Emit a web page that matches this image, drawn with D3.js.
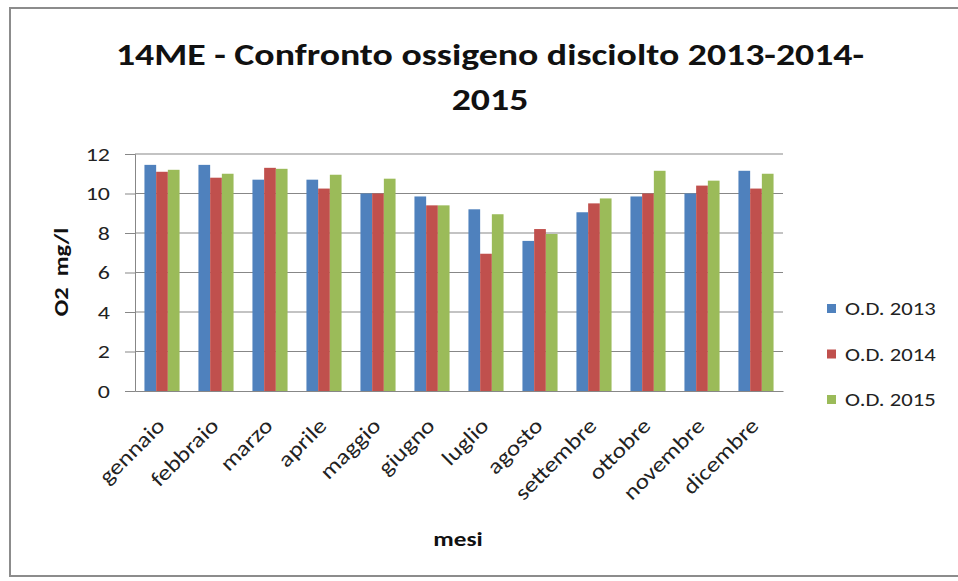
<!DOCTYPE html>
<html>
<head>
<meta charset="utf-8">
<script src="https://cdn.jsdelivr.net/npm/d3@7"></script>
<style>
  html, body { margin: 0; padding: 0; background: #fff; }
  svg { display: block; font-family: Carlito, Lato, "Open Sans", sans-serif; }
</style>
</head>
<body>
<svg id="chart" width="958" height="581"></svg>
<script>
// Monthly dissolved oxygen (mg/l), station 14ME
const months = ["gennaio", "febbraio", "marzo", "aprile", "maggio", "giugno",
                "luglio", "agosto", "settembre", "ottobre", "novembre", "dicembre"];
const od2013 = [11.45, 11.45, 10.7, 10.7, 10.0, 9.85, 9.2, 7.6, 9.05, 9.85, 10.0, 11.15];
const od2014 = [11.1, 10.8, 11.3, 10.25, 10.0, 9.4, 6.95, 8.2, 9.5, 10.0, 10.4, 10.25];
const od2015 = [11.2, 11.0, 11.25, 10.95, 10.75, 9.4, 8.95, 7.95, 9.75, 11.15, 10.65, 11.0];
const seriesNames = ["O.D. 2013", "O.D. 2014", "O.D. 2015"];
const seriesColors = ["#4F81BD", "#C0504D", "#9BBB59"];
const yTicks = [0, 2, 4, 6, 8, 10, 12];

const series = [od2013, od2014, od2015];
const svg = d3.select("#chart");
const WIDE = 1.26; // horizontal widening of the lettering

// outer chart frame
svg.append("rect")
  .attr("x", 10).attr("y", 8).attr("width", 960).attr("height", 568)
  .attr("fill", "#fff").attr("stroke", "#8c8c8c").attr("stroke-width", 2);

const plot = { left: 135, right: 783, top: 154, bottom: 391 };

const x = d3.scaleBand().domain(months).range([plot.left, plot.right]).paddingInner(0.35).paddingOuter(0.175);
const xSub = d3.scaleBand().domain(d3.range(3)).range([0, x.bandwidth()]);
const y = d3.scaleLinear().domain([0, 12]).range([plot.bottom, plot.top]);

// horizontal gridlines
svg.append("g")
  .selectAll("line").data(yTicks.filter(t => t > 0)).join("line")
  .attr("x1", plot.left).attr("x2", plot.right)
  .attr("y1", d => y(d)).attr("y2", d => y(d))
  .attr("stroke", "#878787").attr("stroke-width", 1);

// y axis (labels drawn separately so they can be widened)
const yAxis = svg.append("g")
  .attr("transform", `translate(${plot.left},0)`)
  .call(d3.axisLeft(y).tickValues(yTicks).tickSize(10).tickFormat(""));
yAxis.select(".domain").attr("stroke", "#878787");
yAxis.selectAll(".tick line").attr("stroke", "#878787");

svg.append("g").selectAll("text").data(yTicks).join("text")
  .attr("transform", d => `translate(110,${y(d)}) scale(${WIDE},1)`)
  .attr("text-anchor", "end").attr("dy", "0.36em")
  .attr("font-size", 19).attr("fill", "#222")
  .text(d => d);

// bars
const groups = svg.append("g").selectAll("g").data(months).join("g")
  .attr("transform", d => `translate(${x(d)},0)`);
groups.selectAll("rect")
  .data((m, i) => series.map((s, k) => ({ k, v: s[i] })))
  .join("rect")
  .attr("x", d => xSub(d.k))
  .attr("width", xSub.bandwidth())
  .attr("y", d => y(d.v))
  .attr("height", d => y(0) - y(d.v))
  .attr("fill", d => seriesColors[d.k]);

// x axis baseline
const xAxis = svg.append("g")
  .attr("transform", `translate(0,${plot.bottom})`)
  .call(d3.axisBottom(x).tickSize(0).tickFormat(""));
xAxis.select(".domain").attr("stroke", "#878787");

// rotated month labels
svg.append("g").selectAll("text").data(months).join("text")
  .attr("transform", d => `translate(${x(d) + x.bandwidth() / 2 + 4},${plot.bottom + 36}) rotate(-45) scale(1.3,1.1)`)
  .attr("text-anchor", "end")
  .attr("font-size", 19.5)
  .attr("fill", "#222")
  .text(d => d);

// title
const titleLines = ["14ME - Confronto ossigeno disciolto 2013-2014-", "2015"];
svg.append("g").selectAll("text").data(titleLines).join("text")
  .attr("transform", (d, i) => `translate(490,${65 + i * 45}) scale(${WIDE},1)`)
  .attr("text-anchor", "middle")
  .attr("font-size", 30).attr("font-weight", "bold").attr("fill", "#111")
  .text(d => d);

// axis titles
svg.append("text")
  .attr("transform", "translate(68,272) rotate(-90) scale(1.22,1)")
  .attr("text-anchor", "middle")
  .attr("font-size", 20).attr("font-weight", "bold").attr("fill", "#111")
  .attr("xml:space", "preserve")
  .text("O2  mg/l");

svg.append("text")
  .attr("transform", `translate(458,546) scale(${WIDE},1)`)
  .attr("text-anchor", "middle")
  .attr("font-size", 20).attr("font-weight", "bold").attr("fill", "#111")
  .text("mesi");

// legend
const legend = svg.append("g").selectAll("g").data(seriesNames).join("g")
  .attr("transform", (d, i) => `translate(827,${309 + i * 45.5})`);
legend.append("rect")
  .attr("x", 0).attr("y", -5).attr("width", 9).attr("height", 9)
  .attr("fill", (d, i) => seriesColors[i]);
legend.append("text")
  .attr("transform", `translate(18,0) scale(${WIDE},1)`)
  .attr("dy", "0.36em")
  .attr("font-size", 18).attr("fill", "#222")
  .text(d => d);
</script>
</body>
</html>
